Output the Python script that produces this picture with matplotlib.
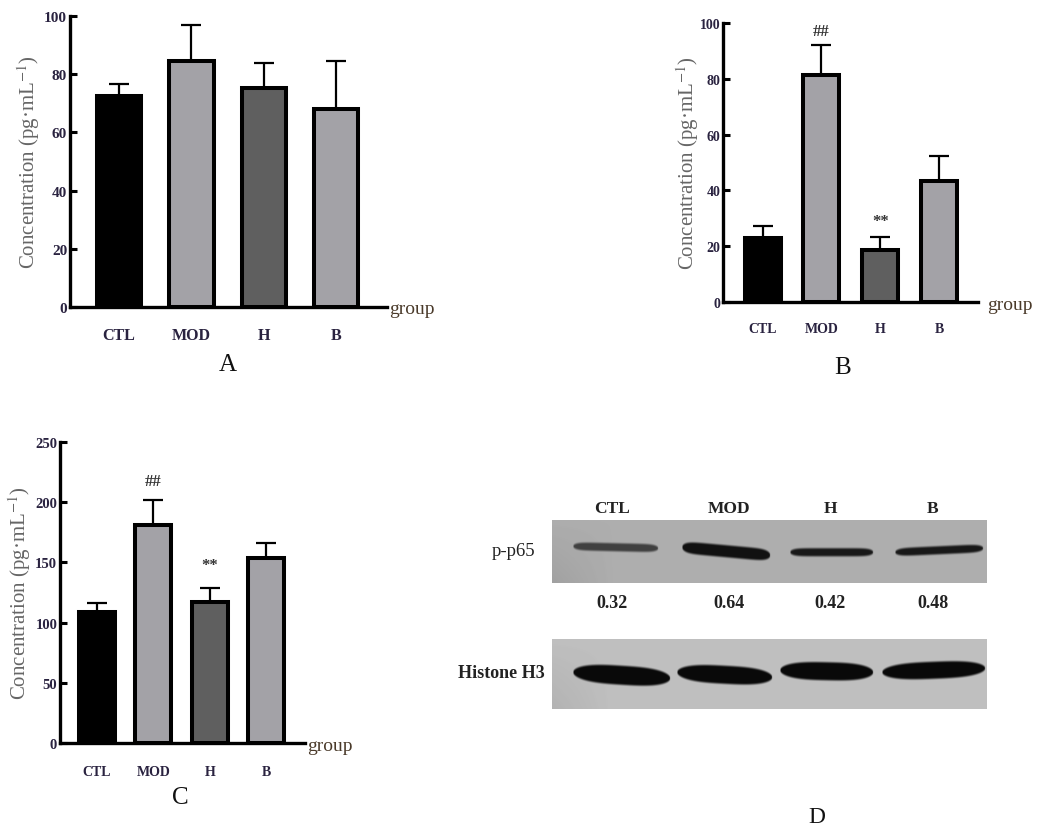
import numpy as np
import matplotlib
matplotlib.use("Agg")
import matplotlib.pyplot as plt
from matplotlib.transforms import blended_transform_factory

plt.rcParams['font.family'] = ['Liberation Serif', 'DejaVu Serif']
plt.rcParams['mathtext.fontset'] = 'stix'

W, H = 1037, 837

# ---------------- data ----------------
groups = ["CTL", "MOD", "H", "B"]
bar_colors = ["#000000", "#a3a2a7", "#5f5f5f", "#a3a2a7"]

a_mean = [72.5, 84.5, 75.2, 68.2]
a_err = [4.1, 12.5, 8.6, 16.4]

b_mean = [22.9, 81.4, 18.7, 43.5]
b_err = [4.4, 10.7, 4.7, 8.9]
b_marks = ["", "##", "**", ""]

c_mean = [108.6, 181.0, 117.4, 153.3]
c_err = [7.4, 20.6, 11.1, 13.0]
c_marks = ["", "##", "**", ""]

a_ticks = [0, 20, 40, 60, 80, 100]
b_ticks = [0, 20, 40, 60, 80, 100]
c_ticks = [0, 50, 100, 150, 200, 250]

wb_ratio = ["0.32", "0.64", "0.42", "0.48"]
wb_rows = ["p-p65", "Histone H3"]

ylabel = r"Concentration (pg·mL$^{-1}$)"

fig = plt.figure(figsize=(W / 100, H / 100), dpi=100)


def px_axes(l, t, r, b):
    return fig.add_axes([l / W, 1 - b / H, (r - l) / W, (b - t) / H])


def bar_panel(box, means, errs, ticks, xlim, width, marks, mark_off,
              tick_fs, cat_fs, cat_y, group_xy, letter, letter_xy, ylab_x):
    ax = px_axes(*box)
    x = np.arange(len(groups))
    ax.bar(x, means, width=width, color=bar_colors, edgecolor="black",
           linewidth=2.9, zorder=2)
    ax.errorbar(x, means, yerr=[np.zeros(len(errs)), errs], fmt="none",
                ecolor="black", elinewidth=1.6, capsize=7.5, capthick=1.6,
                zorder=3)
    for xi, m, e, mk in zip(x, means, errs, marks):
        if mk:
            ax.annotate(mk, (xi, m + e), xytext=(0, mark_off[mk]),
                        textcoords="offset points", ha="center", va="center",
                        fontsize=12, fontweight="bold", color="#333333")
    ax.set_xlim(*xlim)
    ax.set_ylim(ticks[0], ticks[-1])
    ax.set_yticks(ticks)
    ax.set_yticklabels([str(t) for t in ticks], fontsize=tick_fs,
                       fontweight="bold", color="#2a2340")
    ax.tick_params(axis="y", direction="in", length=5, width=2.2, pad=2)
    ax.set_xticks([])
    for s in ["top", "right"]:
        ax.spines[s].set_visible(False)
    ax.spines["left"].set_linewidth(2.4)
    ax.spines["bottom"].set_linewidth(2.4)
    ax.patch.set_alpha(0)
    tr = blended_transform_factory(ax.transData, fig.transFigure)
    for xi, g in zip(x, groups):
        ax.text(xi, 1 - cat_y / H, g, transform=tr, ha="center", va="center",
                fontsize=cat_fs, fontweight="bold", color="#2a2340")
    fig.text(group_xy[0] / W, 1 - group_xy[1] / H, "group", ha="left",
             va="center", fontsize=14, color="#4a3a2a")
    fig.text(letter_xy[0] / W, 1 - letter_xy[1] / H, letter, ha="center",
             va="center", fontsize=18, color="#111111")
    fig.text(ylab_x / W, 1 - (box[1] + box[3]) / 2 / H, ylabel,
             rotation=90, ha="center", va="center", fontsize=15,
             color="#666666")
    return ax


bar_panel((70, 17, 387, 308), a_mean, a_err, a_ticks, (-0.677, 3.70), 0.61,
          ["", "", "", ""], {}, 11, 11.5, 336, (389, 310), "A", (228, 365), 29)
bar_panel((723, 24, 978, 303), b_mean, b_err, b_ticks, (-0.672, 3.66), 0.61,
          b_marks, {"##": 10, "**": 11}, 10, 10, 330, (987, 305), "B",
          (843, 368), 688)
bar_panel((60, 443, 305, 744), c_mean, c_err, c_ticks, (-0.657, 3.69), 0.64,
          c_marks, {"##": 14, "**": 17}, 10.5, 10, 773, (307, 747), "C",
          (180, 798), 20)

# ---------------- panel D : western blot ----------------
axd = fig.add_axes([0, 0, 1, 1], zorder=-1)
axd.set_xlim(0, W)
axd.set_ylim(H, 0)
axd.axis("off")


def blot(x0, x1, y0, y1, bg, bands):
    xs = np.arange(x0, x1, 0.5)
    ys = np.arange(y0, y1, 0.5)
    X, Y = np.meshgrid(xs, ys)
    img = np.full(X.shape, bg, dtype=float)
    img -= 0.05 * np.clip(1 - (X - x0) / 60, 0, 1) * np.clip((Y - y0) / (y1 - y0), 0, 1)
    for (bx0, bx1, yl, yr, th, dark, lens) in bands:
        xm = (bx0 + bx1) / 2
        hw = (bx1 - bx0) / 2
        yc = yl + (yr - yl) * (X - bx0) / (bx1 - bx0)
        rel = np.clip(np.abs(X - xm) / hw, 0, 1.2)
        thick = th * np.sqrt(np.clip(1 - rel ** lens, 0, 1))
        wy = np.clip((thick / 2 + 1.2 - np.abs(Y - yc)) / 2.4, 0, 1)
        w = wy * (np.abs(X - xm) < hw)
        img = img * (1 - w) + dark * w
    axd.imshow(img, cmap="gray", vmin=0, vmax=1, extent=(x0, x1, y1, y0),
               interpolation="bilinear", aspect="auto", zorder=1)


blot(552, 987, 521, 584, 0.68, [
    (573, 658, 547, 549, 8, 0.25, 8),
    (682, 770, 548, 556, 12, 0.07, 8),
    (790, 873, 553, 553, 8, 0.1, 8),
    (895, 983, 553, 549, 8, 0.1, 8),
])
blot(552, 987, 640, 710, 0.75, [
    (573, 670, 673, 679, 19, 0.04, 3),
    (677, 772, 673, 678, 18, 0.04, 3),
    (780, 873, 671, 673, 18, 0.04, 3),
    (882, 985, 673, 669, 17, 0.04, 3),
])

wb_x = [612, 729, 830, 933]
for xx, g in zip(wb_x, groups):
    axd.text(xx, 509, g, ha="center", va="center", fontsize=12.5,
             fontweight="bold", color="#222222")
for xx, v in zip(wb_x, wb_ratio):
    axd.text(xx, 603, v, ha="center", va="center", fontsize=13,
             fontweight="bold", color="#222222")
axd.text(535, 552, wb_rows[0], ha="right", va="center", fontsize=13.5,
         color="#222222")
axd.text(545, 673, wb_rows[1], ha="right", va="center", fontsize=13,
         fontweight="bold", color="#222222")
axd.text(817, 818, "D", ha="center", va="center", fontsize=17,
         color="#111111")

fig.savefig("out.png", dpi=100)
